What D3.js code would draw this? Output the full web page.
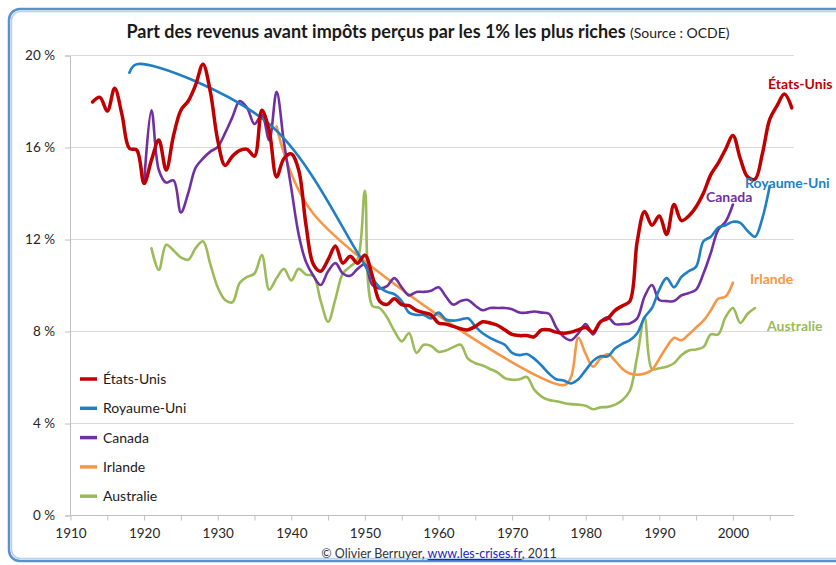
<!DOCTYPE html>
<html>
<head>
<meta charset="utf-8">
<script src="https://cdn.jsdelivr.net/npm/d3@7"></script>
<style>
  body { margin: 0; background: #fff; }
  svg { display: block; font-family: Lato, "Open Sans", sans-serif; }
</style>
</head>
<body>
<div id="chart"></div>
<script>
// values (top 1% income share, %)
const usStart = 1913;
const usValues = [
  17.96, 18.16, 17.56, 18.55, 17.4, 15.94, 15.87,
  14.42, 15.43, 16.3, 15.0, 16.5, 17.6, 18.0, 18.7, 19.6, 18.4,
  16.3, 15.2, 15.6, 15.85, 15.9, 15.6, 17.6, 16.7, 14.7, 15.5,
  15.7, 15.0, 12.6, 10.9, 10.6, 11.1, 11.7, 10.95, 11.25, 10.95,
  11.3, 10.4, 9.3, 9.15, 9.4, 9.15, 9.1, 8.9, 8.8, 8.7,
  8.35, 8.3, 8.2, 8.1, 8.05, 8.2, 8.4, 8.35, 8.25, 8.05,
  7.85, 7.8, 7.8, 7.75, 8.05, 8.05, 7.95, 7.9, 7.95, 8.05,
  8.15, 7.95, 8.4, 8.55, 8.9, 9.1, 9.3, 11.9, 13.2, 12.6,
  13.0, 12.2, 13.5, 12.8, 13.0, 13.4, 14.0, 14.8, 15.3, 15.9,
  16.5, 15.5, 14.7, 14.6, 15.7, 17.2, 17.8, 18.3, 17.7
];

// UK has gaps before 1951
const ukPoints = [
  [1918, 19.23], [1919, 19.6], [1937, 17.0], [1949, 11.4],
  [1951, 10.3], [1952, 9.9], [1953, 9.7], [1954, 9.6], [1955, 9.3], [1956, 8.8],
  [1957, 8.7], [1958, 8.7], [1959, 8.55], [1960, 8.8], [1961, 8.5], [1962, 8.45],
  [1963, 8.5], [1964, 8.55], [1965, 8.2], [1966, 7.9], [1967, 7.7], [1968, 7.55],
  [1969, 7.4], [1970, 7.05], [1971, 6.95], [1972, 7.0], [1973, 6.8], [1974, 6.5],
  [1975, 6.15], [1976, 5.9], [1977, 5.85], [1978, 5.72], [1979, 5.9], [1980, 6.3],
  [1981, 6.7], [1982, 6.9], [1983, 6.9], [1984, 7.25], [1985, 7.45], [1986, 7.6],
  [1987, 7.9], [1988, 8.6], [1989, 9.0], [1990, 9.8], [1991, 10.3], [1992, 9.9],
  [1993, 10.35], [1994, 10.6], [1995, 10.8], [1996, 11.9], [1997, 12.1], [1998, 12.5],
  [1999, 12.6], [2000, 12.75], [2001, 12.7], [2002, 12.35], [2003, 12.1], [2004, 12.9],
  [2005, 14.3]
];

const caStart = 1920;
const caValues = [
  14.4, 17.6, 15.0, 14.45, 14.55, 13.15, 14.0, 15.1, 15.5, 15.8,
  16.0, 16.6, 17.3, 18.0, 17.7, 17.0, 17.4, 16.3, 18.4, 16.2,
  14.2, 12.2, 11.0, 10.4, 10.0, 10.6, 10.95, 10.5, 10.4, 10.7,
  10.9, 10.0, 9.85, 9.95, 10.3, 9.9, 9.55, 9.7, 9.7, 9.75,
  9.9, 9.5, 9.15, 9.3, 9.35, 9.1, 8.9, 9.0, 9.0, 9.0,
  8.95, 8.8, 8.8, 8.85, 8.8, 8.75, 8.15, 7.75, 7.6, 7.9,
  8.3, 7.85, 8.4, 8.6, 8.3, 8.3, 8.33, 8.55, 9.5, 10.0,
  9.35, 9.3, 9.3, 9.55, 9.65, 9.8, 10.5, 11.4, 12.4, 12.75,
  13.5
];

const iePoints = [
  [1938, 16.9], [1943, 13.1], [1977, 5.65], [1978, 6.0], [1979, 7.7], [1980, 7.0],
  [1981, 6.45], [1982, 6.8], [1983, 7.0], [1984, 6.7], [1985, 6.35], [1986, 6.15],
  [1987, 6.1], [1988, 6.15], [1989, 6.3], [1990, 6.8], [1991, 7.3], [1992, 7.7],
  [1993, 7.6], [1994, 7.85], [1995, 8.15], [1996, 8.45], [1997, 8.9], [1998, 9.4],
  [1999, 9.5], [2000, 10.1]
];

const auStart = 1921;
const auValues = [
  11.6, 10.65, 11.75, 11.5, 11.2, 11.1, 11.6, 11.9, 10.9,
  9.9, 9.35, 9.25, 10.1, 10.35, 10.5, 11.3, 9.8, 10.3, 10.7,
  10.2, 10.7, 10.45, 10.4, 9.3, 8.4, 9.4, 10.5, 10.8, 11.1,
  14.1, 9.1, 9.0, 8.6, 8.0, 7.55, 7.9, 7.05, 7.4, 7.35,
  7.1, 7.15, 7.3, 7.4, 6.8, 6.6, 6.5, 6.35, 6.2, 5.95,
  5.88, 5.9, 6.0, 5.45, 5.15, 5.0, 4.95, 4.87, 4.82, 4.8,
  4.75, 4.6, 4.68, 4.7, 4.8, 5.0, 5.4, 6.9, 8.6, 6.35,
  6.38, 6.45, 6.6, 6.95, 7.15, 7.2, 7.3, 7.85, 7.85, 8.6,
  9.0, 8.35, 8.75, 9.0
];

const seriesNames = ["États-Unis", "Royaume-Uni", "Canada", "Irlande", "Australie"];
const seriesColors = ["#c00000", "#1f7fc4", "#7030a0", "#f79646", "#9bbb59"];
const seriesWidths = [3.5, 2.6, 2.6, 2.6, 2.6];
const yTicks = [0, 4, 8, 12, 16, 20];

function fromStart(start, values) {
    return values.map(function (v, i) { return [start + i, v]; });
}
const seriesData = [
    fromStart(usStart, usValues),
    ukPoints,
    fromStart(caStart, caValues),
    iePoints,
    fromStart(auStart, auValues)
];

const width = 836, height = 565;
const svg = d3.select("#chart").append("svg")
    .attr("width", width)
    .attr("height", height);

// rounded blue frame
svg.append("rect")
    .attr("x", 9).attr("y", 9)
    .attr("width", 850).attr("height", 552)
    .attr("rx", 11)
    .attr("fill", "#fff")
    .attr("stroke", "#5b8fcf")
    .attr("stroke-width", 2.5);
svg.append("rect")
    .attr("x", 11.5).attr("y", 11.5)
    .attr("width", 845).attr("height", 547)
    .attr("rx", 9)
    .attr("fill", "none")
    .attr("stroke", "#b9d0ee")
    .attr("stroke-width", 1.5);

const xScale = d3.scaleLinear()
    .domain([1910, 2008.3])
    .range([70.5, 794]);
const yScale = d3.scaleLinear()
    .domain([0, 20])
    .range([515, 55]);

// title
const title = svg.append("text")
    .attr("x", 428)
    .attr("y", 38)
    .attr("text-anchor", "middle")
    .attr("fill", "#1a1a1a");
title.append("tspan")
    .attr("font-size", 18)
    .attr("font-weight", "bold")
    .text("Part des revenus avant impôts perçus par les 1% les plus riches ");
title.append("tspan")
    .attr("font-size", 14)
    .text("(Source : OCDE)");

// gridlines
svg.append("g")
    .selectAll("line")
    .data(yTicks.filter(function (d) { return d > 0; }))
    .join("line")
    .attr("x1", xScale(1910))
    .attr("x2", xScale.range()[1])
    .attr("y1", function (d) { return Math.round(yScale(d)) + 0.5; })
    .attr("y2", function (d) { return Math.round(yScale(d)) + 0.5; })
    .attr("stroke", "#d9d9d9");

// y axis
const yAxis = svg.append("g")
    .attr("transform", "translate(" + (xScale(1910) - 0.5) + ",0.5)")
    .call(d3.axisLeft(yScale)
        .tickValues(yTicks)
        .tickSize(5)
        .tickPadding(10)
        .tickFormat(function (d) { return d + " %"; }));
yAxis.select(".domain").attr("stroke", "#bfbfbf");
yAxis.selectAll(".tick line").attr("stroke", "#bfbfbf");
yAxis.selectAll(".tick text")
    .attr("font-family", "Lato")
    .attr("font-size", 13.5)
    .attr("fill", "#262626");

// x axis, ticks every 5 years, labels every 10
const xAxis = svg.append("g")
    .attr("transform", "translate(0," + (yScale(0) + 0.5) + ")")
    .call(d3.axisBottom(xScale)
        .tickValues(d3.range(1910, 2006, 5))
        .tickSize(5)
        .tickPadding(8)
        .tickFormat(function (d) { return d % 10 === 0 ? d : ""; }));
xAxis.select(".domain").attr("stroke", "#bfbfbf").attr("d", "M" + xScale(1910) + ",0H" + xScale.range()[1]);
xAxis.selectAll(".tick line").attr("stroke", "#bfbfbf");
xAxis.selectAll(".tick text")
    .attr("font-family", "Lato")
    .attr("font-size", 13.5)
    .attr("fill", "#262626");

// lines
const line = d3.line()
    .x(function (d) { return xScale(d[0]); })
    .y(function (d) { return yScale(d[1]); })
    .curve(d3.curveCatmullRom.alpha(0.5));

// draw in order so US ends on top
const drawOrder = [4, 3, 2, 1, 0];
svg.append("g")
    .selectAll("path")
    .data(drawOrder)
    .join("path")
    .attr("d", function (i) { return line(seriesData[i]); })
    .attr("fill", "none")
    .attr("stroke", function (i) { return seriesColors[i]; })
    .attr("stroke-width", function (i) { return seriesWidths[i]; })
    .attr("stroke-linejoin", "round")
    .attr("stroke-linecap", "round");

// end labels
const endLabels = [
    { x: 768, y: 89 },
    { x: 745, y: 188 },
    { x: 706, y: 202 },
    { x: 750, y: 284 },
    { x: 767, y: 331 }
];
svg.append("g")
    .selectAll("text")
    .data(endLabels)
    .join("text")
    .attr("x", function (d) { return d.x; })
    .attr("y", function (d) { return d.y; })
    .attr("font-size", 14)
    .attr("font-weight", "bold")
    .attr("fill", function (d, i) { return seriesColors[i]; })
    .text(function (d, i) { return seriesNames[i]; });

// legend
const legend = svg.append("g")
    .attr("transform", "translate(80,379)");
const items = legend.selectAll("g")
    .data(seriesNames)
    .join("g")
    .attr("transform", function (d, i) { return "translate(0," + (i * 29.3) + ")"; });
items.append("line")
    .attr("x1", 0).attr("x2", 17)
    .attr("stroke", function (d, i) { return seriesColors[i]; })
    .attr("stroke-width", 3.5);
items.append("text")
    .attr("x", 23)
    .attr("dy", "0.35em")
    .attr("font-size", 14)
    .attr("fill", "#1a1a1a")
    .text(function (d) { return d; });

// footer
const footer = svg.append("text")
    .attr("x", 439)
    .attr("y", 558)
    .attr("text-anchor", "middle")
    .attr("font-size", 12.5)
    .attr("fill", "#333");
footer.append("tspan").text("© Olivier Berruyer, ");
footer.append("tspan")
    .attr("fill", "#2222cc")
    .attr("text-decoration", "underline")
    .text("www.les-crises.fr");
footer.append("tspan").text(",  2011");
</script>
</body>
</html>
